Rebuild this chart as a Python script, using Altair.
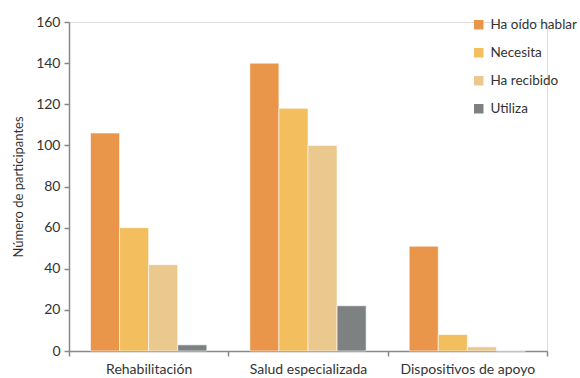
import altair as alt
import pandas as pd

categories = ["Rehabilitación", "Salud especializada", "Dispositivos de apoyo"]
series = ["Ha oído hablar", "Necesita", "Ha recibido", "Utiliza"]
ha_oido = [106, 140, 51]
necesita = [60, 118, 8]
ha_recibido = [42, 100, 2]
utiliza = [3, 22, 0]
colors = ["#E9954A", "#F3BE5E", "#EBC98E", "#7E8182"]

rows = []
for i, c in enumerate(categories):
    for s, vals in zip(series, [ha_oido, necesita, ha_recibido, utiliza]):
        rows.append({"categoria": c, "serie": s, "valor": vals[i]})
df = pd.DataFrame(rows)

FONT = "Lato"
W, H = 478, 329

bars = alt.Chart(df).mark_bar(stroke="white", strokeWidth=0.6).encode(
    x=alt.X("categoria:N", sort=categories, title=None,
            scale=alt.Scale(paddingInner=0, paddingOuter=0),
            axis=alt.Axis(labelAngle=0, tickBand="extent", labelFontSize=14,
                          labelColor="#333333", labelFont=FONT, domainColor="#888888",
                          domainWidth=1.5, tickColor="#888888", tickWidth=1.5, tickSize=5,
                          labelPadding=6)),
    xOffset=alt.XOffset("serie:N", sort=series,
                        scale=alt.Scale(paddingInner=0, paddingOuter=0.74)),
    y=alt.Y("valor:Q", title="Número de participantes",
            scale=alt.Scale(domain=[0, 160]),
            axis=alt.Axis(values=list(range(0, 161, 20)), grid=False, labelFontSize=14,
                          labelColor="#333333", labelFont=FONT, titleFont=FONT,
                          titleFontSize=13, titleFontWeight="normal", titleColor="#333333",
                          domainColor="#888888", domainWidth=1.5, tickColor="#888888",
                          tickWidth=1.5, tickSize=5, labelPadding=4, titlePadding=10)),
    color=alt.Color("serie:N", sort=series,
                    scale=alt.Scale(domain=series, range=colors),
                    legend=alt.Legend(title=None, orient="none", legendX=403, legendY=-4,
                                      symbolType="square", symbolSize=90,
                                      symbolStrokeWidth=0, labelFontSize=13.5,
                                      labelFont=FONT, labelColor="#333333",
                                      rowPadding=13, labelOffset=5, labelLimit=200)),
)

chart = bars.properties(
    width=W, height=H,
    autosize=alt.AutoSizeParams(type="none"),
    padding={"left": 69, "top": 22, "right": 33, "bottom": 27},
).configure_view(stroke=None).configure(background="white")

chart.save("out.html", embed_options={"renderer": "svg", "actions": False})
